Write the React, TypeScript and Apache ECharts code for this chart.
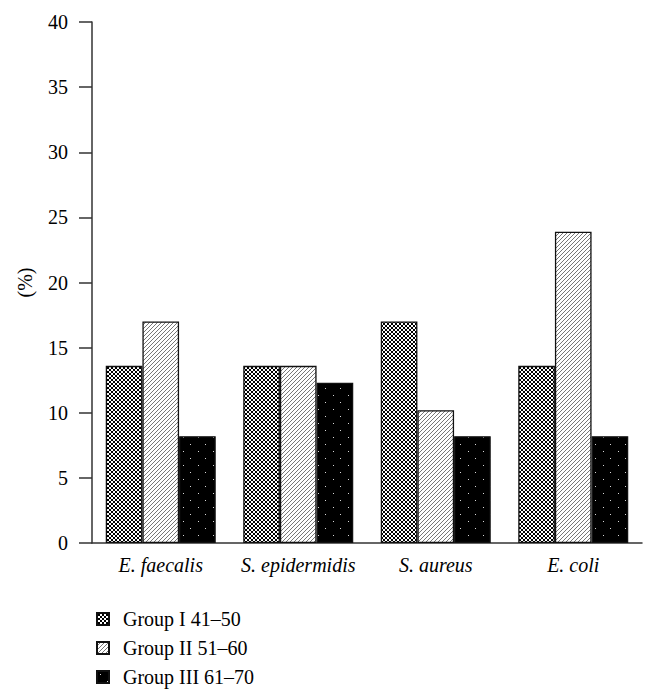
import React, { useEffect, useRef } from "react";
import * as echarts from "echarts";

const categories = ["E. faecalis", "S. epidermidis", "S. aureus", "E. coli"];
const seriesNames = ["Group I 41–50", "Group II 51–60", "Group III 61–70"];
const groupI = [13.6, 13.6, 17.0, 13.6];
const groupII = [17.0, 13.6, 10.2, 23.9];
const groupIII = [8.2, 12.3, 8.2, 8.2];
const yTicks = { min: 0, max: 40, interval: 5 };

function makeTile(w: number, h: number, bg: string, fg: string, pts: [number, number][]) {
  const c = document.createElement("canvas");
  c.width = w;
  c.height = h;
  const ctx = c.getContext("2d")!;
  ctx.fillStyle = bg;
  ctx.fillRect(0, 0, w, h);
  ctx.fillStyle = fg;
  pts.forEach(([x, y]) => ctx.fillRect(x, y, 1, 1));
  return c;
}

function checkerPattern() {
  const rows = [
    "1001",
    "0110",
    "0110",
    "1001",
  ];
  const pts: [number, number][] = [];
  rows.forEach((r, y) => r.split("").forEach((ch, x) => { if (ch === "1") pts.push([x, y]); }));
  return makeTile(4, 4, "#ffffff", "#000000", pts);
}

function hatchPattern() {
  const pts: [number, number][] = [];
  for (let x = 0; x < 4; x++) pts.push([x, 3 - x]);
  return makeTile(4, 4, "#ffffff", "#777777", pts);
}

function dotPattern() {
  return makeTile(15, 14, "#000000", "#d8d8d8", [[3, 3], [10, 10]]);
}

export default function App() {
  const ref = useRef<HTMLDivElement>(null);
  useEffect(() => {
    if (!ref.current) return;
    const chart = echarts.init(ref.current, null, { renderer: "svg" });
    const pats = [checkerPattern(), hatchPattern(), dotPattern()];
    const fills = pats.map((c) => ({
      image: c as any,
      repeat: "repeat",
      imageWidth: c.width,
      imageHeight: c.height,
    }));
    const dataSets = [groupI, groupII, groupIII];
    const font = "'Liberation Serif', 'Times New Roman', serif";
    const fs = 20;
    chart.setOption({
      animation: false,
      textStyle: { fontFamily: font, color: "#000" },
      grid: { left: 92, right: 14, top: 22, bottom: 157 },
      legend: {
        orient: "vertical",
        left: 96,
        top: 609,
        padding: 0,
        itemWidth: 12,
        itemHeight: 12,
        itemGap: 9,
        icon: "rect",
        textStyle: { fontFamily: font, fontSize: fs, color: "#000", lineHeight: 20, padding: [0, 0, 0, 9] },
        data: seriesNames,
      },
      xAxis: {
        type: "category",
        data: categories,
        axisTick: { show: false },
        axisLine: { lineStyle: { color: "#333", width: 1.5 } },
        axisLabel: { interval: 0, fontFamily: font, fontSize: fs, fontStyle: "italic", color: "#000", margin: 12 },
      },
      yAxis: {
        type: "value",
        min: yTicks.min,
        max: yTicks.max,
        interval: yTicks.interval,
        name: "(%)",
        nameLocation: "middle",
        nameRotate: 90,
        nameGap: 57,
        nameTextStyle: { fontFamily: font, fontSize: fs, color: "#000" },
        splitLine: { show: false },
        axisLine: { show: true, lineStyle: { color: "#333", width: 1.5 } },
        axisTick: { show: true, length: 13, lineStyle: { color: "#333", width: 1.5 } },
        axisLabel: { fontFamily: font, fontSize: fs, color: "#000", margin: 24 },
      },
      series: dataSets.map((d, i) => ({
        name: seriesNames[i],
        type: "bar",
        data: d,
        barGap: "0%",
        barCategoryGap: "20%",
        itemStyle: { color: fills[i], borderColor: "#111", borderWidth: 1.3 },
      })),
    });
    return () => chart.dispose();
  }, []);
  return <div ref={ref} style={{ width: 656, height: 700, position: "absolute", left: 0, top: 0 }} />;
}
